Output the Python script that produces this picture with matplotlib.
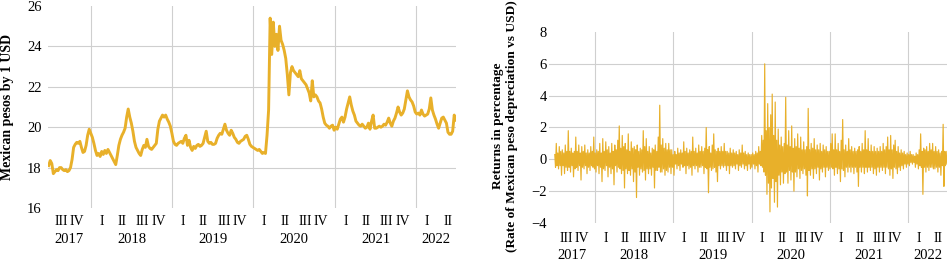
import numpy as np
import pandas as pd
import matplotlib
matplotlib.use("Agg")
import matplotlib.pyplot as plt
import matplotlib.dates as mdates
import matplotlib.transforms as mtransforms

plt.rcParams["font.family"] = ["Liberation Serif", "DejaVu Serif"]

# exchange rate, weekly readings starting the week of 2017-06-26
rate_2017 = [18.1, 18.35, 18.2, 17.7, 17.8, 17.9, 17.85, 18.0, 18.0, 17.9, 17.85, 17.9, 17.8, 17.85,
             18.0, 18.4, 19.0, 19.15, 19.25, 19.2, 19.3, 19.0, 18.75, 18.8, 19.1, 19.6, 19.9]
rate_2018 = [19.7, 19.5, 19.2, 18.85, 18.6, 18.7, 18.55, 18.8, 18.65, 18.85, 18.7, 18.9, 18.75,
             18.6, 18.45, 18.3, 18.15, 18.6, 19.1, 19.4, 19.6, 19.75, 19.95, 20.5, 20.9, 20.5,
             20.2, 19.8, 19.3, 19.0, 18.85, 18.7, 18.6, 18.9, 19.1, 19.0, 19.4, 19.05, 18.95,
             18.9, 19.0, 19.1, 19.2, 19.9, 20.3, 20.45, 20.6, 20.5, 20.6, 20.4, 20.25, 20.05]
rate_2019 = [19.7, 19.3, 19.15, 19.1, 19.2, 19.25, 19.3, 19.2, 19.45, 19.6, 19.1, 19.35, 19.0,
             18.85, 19.05, 18.95, 19.1, 19.15, 19.05, 19.1, 19.2, 19.5, 19.8, 19.3, 19.2, 19.25,
             19.15, 19.15, 19.2, 19.45, 19.6, 19.7, 19.65, 19.9, 20.15, 19.85, 19.7, 19.6, 19.85,
             19.7, 19.5, 19.4, 19.25, 19.2, 19.3, 19.35, 19.4, 19.55, 19.6, 19.4, 19.15, 19.05]
rate_2020 = [19.0, 18.95, 18.9, 18.85, 18.9, 18.8, 18.7, 18.75, 18.7, 19.6, 20.85, 25.4, 23.6,
             25.2, 24.0, 24.6, 23.8, 25.0, 24.3, 24.1, 23.8, 23.4, 22.6, 21.6, 22.7, 23.0, 22.8,
             22.7, 22.6, 22.5, 22.8, 22.4, 22.3, 22.2, 22.1, 21.9, 21.7, 21.3, 22.3, 21.5, 21.6,
             21.5, 21.3, 21.2, 20.9, 20.5, 20.2, 20.1, 20.05, 19.95, 20.05, 20.1]
rate_2021 = [19.85, 20.0, 19.9, 20.15, 20.4, 20.5, 20.25, 20.5, 20.9, 21.2, 21.5, 21.1, 20.8,
             20.6, 20.3, 20.2, 20.1, 20.05, 20.15, 20.05, 19.95, 20.0, 20.2, 19.9, 20.3, 20.6,
             19.95, 19.95, 20.0, 20.05, 20.0, 20.05, 20.15, 20.1, 20.25, 20.45, 20.2, 20.05, 20.3,
             20.45, 20.7, 21.0, 20.75, 20.6, 20.7, 20.9, 21.35, 21.8, 21.5, 21.35, 21.25, 21.05]
rate_2022 = [20.75, 20.65, 20.7, 20.6, 20.85, 20.65, 20.55, 20.6, 20.65, 20.9, 21.45, 20.85, 20.6,
             20.4, 20.15, 19.95, 20.2, 20.45, 20.5, 20.35, 20.2, 19.75, 19.65, 19.65, 19.8, 20.6,
             20.35]

# returns in %, two readings per week (up / down swing)
ret_2017 = [0.3, -0.5, 1.0, -0.4, 0.4, -0.6, 0.8, -0.4, 0.5, -1.0, 0.6, -0.4, 0.4, -0.9, 0.9, -0.5,
            0.5, -0.7, 1.8, -0.5, 0.5, -0.8, 0.7, -0.4, 0.4, -1.1, 0.5, -0.6, 1.4, -0.5, 0.5, -0.7,
            0.9, -0.4, 0.4, -1.3, 0.8, -0.5, 0.5, -0.6, 0.9, -0.4, 0.4, -0.9, 0.6, -0.5, 0.4, -0.7,
            0.8, -0.4, 0.5, -0.5, 1.4, -0.6]
ret_2018 = [0.4, -0.8, 0.6, -0.4, 0.5, -0.9, 1.0, -0.5, 0.4, -1.4, 1.3, -0.6, 0.5, -0.7, 1.1, -0.4,
            0.6, -1.1, 0.8, -0.5, 0.4, -0.9, 1.0, -0.6, 0.5, -1.6, 0.9, -0.4, 0.6, -0.8, 1.2, -0.5,
            2.1, -0.6, 0.7, -0.9, 1.5, -0.7, 0.8, -1.8, 1.0, -0.6, 0.6, -0.9, 1.6, -0.7, 0.5, -1.0,
            1.1, -0.6, 0.7, -1.4, 0.8, -0.8, 0.6, -2.4, 0.9, -0.5, 0.5, -1.0, 0.7, -0.6, 0.6, -0.8,
            1.8, -0.7, 0.8, -1.3, 1.3, -0.6, 0.5, -0.9, 0.8, -0.6, 0.4, -1.0, 0.7, -0.5, 0.6, -1.8,
            0.9, -0.7, 0.5, -0.7, 1.4, -0.5, 3.4, -0.8, 0.9, -0.8, 1.3, -0.6, 0.7, -1.0, 1.0, -0.7,
            0.6, -0.8, 1.0, -0.5, 0.6, -0.9, 0.6, -0.5]
ret_2019 = [0.3, -1.0, 0.5, -0.3, 0.3, -0.6, 0.7, -0.4, 0.4, -0.7, 0.6, -0.3, 0.4, -0.5, 1.1, -0.4,
            0.5, -0.9, 0.7, -0.4, 0.4, -0.6, 0.6, -0.5, 0.5, -1.0, 1.4, -0.4, 0.5, -0.6, 0.7, -0.4,
            0.4, -0.8, 0.9, -0.5, 0.5, -0.5, 0.8, -0.4, 0.5, -0.9, 0.7, -0.5, 2.0, -0.6, 0.6, -2.1,
            0.8, -0.5, 0.4, -0.7, 0.9, -0.6, 1.6, -0.5, 0.6, -0.8, 0.5, -1.4, 0.7, -0.4, 0.5, -0.6,
            0.8, -0.4, 0.5, -0.5, 1.0, -0.4, 0.5, -0.7, 0.5, -0.4, 0.4, -0.9, 0.7, -0.4, 0.4, -0.5,
            0.6, -0.4, 0.4, -0.6, 0.5, -0.3, 0.3, -0.7, 0.6, -0.4, 0.4, -0.5, 0.9, -0.3, 0.4, -0.6,
            0.5, -0.4, 0.3, -0.7, 0.4, -0.3, 0.3, -0.6]
ret_2020 = [0.3, -0.5, 0.4, -0.3, 0.3, -0.6, 0.5, -0.4, 0.4, -0.8, 0.8, -0.3, 0.5, -0.4, 1.5, -0.5,
            1.2, -0.8, 6.0, -1.0, 1.8, -2.2, 3.5, -1.5, 2.0, -3.3, 2.8, -1.8, 4.1, -1.2, 1.5, -2.7,
            3.6, -1.4, 1.2, -3.0, 1.9, -1.0, 0.9, -1.6, 1.4, -0.8, 0.8, -1.5, 1.0, -0.9, 3.9, -0.8,
            0.9, -1.5, 1.8, -0.7, 0.8, -1.3, 2.1, -0.8, 0.7, -2.0, 1.3, -0.8, 0.8, -1.1, 1.6, -0.6,
            0.7, -1.2, 1.4, -0.7, 0.6, -0.9, 1.1, -0.6, 0.6, -1.0, 0.8, -2.3, 3.2, -0.7, 0.6, -1.0,
            1.0, -0.6, 0.7, -1.2, 1.3, -0.6, 0.6, -0.9, 0.9, -0.5, 0.6, -1.3, 1.0, -0.6, 0.5, -0.8,
            0.9, -0.5, 0.6, -1.1, 0.8, -0.5, 0.5, -0.7]
ret_2021 = [0.5, -0.6, 1.0, -0.5, 1.6, -0.6, 0.6, -1.0, 1.6, -0.5, 0.6, -0.9, 1.0, -0.6, 0.5, -1.4,
            1.2, -0.6, 2.5, -0.7, 0.6, -1.1, 0.9, -0.5, 0.5, -0.8, 1.3, -0.5, 0.6, -0.8, 0.8, -0.5,
            0.5, -0.9, 0.7, -0.5, 0.5, -0.8, 0.6, -1.7, 0.8, -0.5, 0.5, -0.8, 1.0, -0.5, 0.6, -0.9,
            1.8, -0.5, 0.6, -0.8, 1.3, -0.5, 0.5, -0.7, 0.9, -0.5, 0.5, -0.9, 0.8, -0.6, 0.5, -1.0,
            0.7, -0.5, 0.5, -0.8, 0.8, -0.5, 0.5, -0.7, 1.0, -0.5, 0.6, -0.9, 0.8, -0.5, 1.4, -0.6,
            0.6, -1.0, 1.5, -0.6, 0.6, -1.2, 0.9, -0.5, 1.2, -0.6, 0.5, -0.9, 0.8, -0.5, 0.4, -0.7,
            0.6, -0.4, 0.4, -0.6, 0.5, -0.3, 0.3, -0.5]
ret_2022 = [0.4, -0.3, 0.3, -0.4, 0.5, -0.2, 0.3, -0.3, 0.3, -0.2, 0.2, -0.5, 0.4, -0.3, 0.3, -0.6,
            0.6, -0.4, 1.6, -0.5, 0.5, -2.2, 0.7, -0.5, 0.6, -0.8, 0.8, -0.5, 0.5, -0.7, 1.0, -0.5,
            0.6, -0.5, 1.0, -0.6, 0.5, -0.6, 0.8, -0.5, 0.5, -0.8, 0.6, -0.5, 0.4, -1.0, 0.5, -0.4,
            2.2, -1.7, 0.5, -0.4, 0.5, -0.3]

rate = np.array(rate_2017 + rate_2018 + rate_2019 + rate_2020 + rate_2021 + rate_2022)
ret = np.array(ret_2017 + ret_2018 + ret_2019 + ret_2020 + ret_2021 + ret_2022)
rate_dates = pd.date_range("2017-06-26", periods=len(rate), freq="7D")
ret_dates = pd.date_range("2017-06-26", periods=len(ret), freq="84h")

years = [2017, 2018, 2019, 2020, 2021, 2022]
quarters = ["I", "II", "III", "IV"]
q_pos = [0.133, 0.385, 0.635, 0.83]

color = "#E8B02A"
grid_c = "#CFCFCF"

fig = plt.figure(figsize=(9.48, 2.6), dpi=100)
ax1 = fig.add_axes([48 / 948, 1 - 208 / 260, 408 / 948, 202 / 260])
ax2 = fig.add_axes([549 / 948, 1 - 223 / 260, 398 / 948, 191 / 260])


def style(ax, lo, hi, step, xmin, xmax, q_y, yr_y, pad):
    ax.set_xlim(pd.Timestamp(xmin), pd.Timestamp(xmax))
    ax.set_ylim(lo, hi)
    ax.set_yticks(np.arange(lo, hi + 0.1, step))
    ax.set_xticks([pd.Timestamp(f"{y}-01-01") for y in years[1:]])
    ax.set_xticklabels([])
    ax.tick_params(length=0, labelsize=10.5, pad=pad)
    ax.grid(True, color=grid_c, lw=0.8)
    gl = ax.get_ygridlines()
    gl[0].set_visible(False)
    gl[-1].set_visible(False)
    for s in ax.spines.values():
        s.set_visible(False)
    ax.set_axisbelow(True)
    tr = mtransforms.blended_transform_factory(ax.transData, ax.transAxes)
    x0, x1 = ax.get_xlim()
    for y in years:
        ystart = pd.Timestamp(f"{y}-01-01")
        for q, f in zip(quarters, q_pos):
            d = mdates.date2num(ystart + pd.Timedelta(days=365.25 * f))
            if x0 < d < x1:
                ax.text(d, q_y, q, transform=tr, ha="center", va="center", fontsize=10)
        a = max(mdates.date2num(ystart), x0)
        b = min(mdates.date2num(pd.Timestamp(f"{y + 1}-01-01")), x1)
        ax.text((a + b) / 2, yr_y, str(y), transform=tr, ha="center", va="center", fontsize=10.5)


ax1.plot(rate_dates, rate, color=color, lw=2.1)
style(ax1, 16, 26, 2, "2017-06-23", "2022-06-28", -0.069, -0.158, 4.5)

ax2.plot(ret_dates, ret, color=color, lw=0.85)
style(ax2, -4, 8, 2, "2017-05-30", "2022-07-01", -0.079, -0.168, 1.5)

fig.text(8 / 948, 1 - 107 / 260, "Mexican pesos by 1 USD", rotation=90, ha="center",
         va="center", fontsize=10, fontweight="bold")
fig.text(505 / 948, 1 - 126 / 260, "Returns in percentage\n(Rate of Mexican peso depreciation vs USD)",
         rotation=90, ha="center", va="center", multialignment="center", fontsize=9.6,
         fontweight="bold", linespacing=1.15)

fig.savefig("out.png", dpi=100)
